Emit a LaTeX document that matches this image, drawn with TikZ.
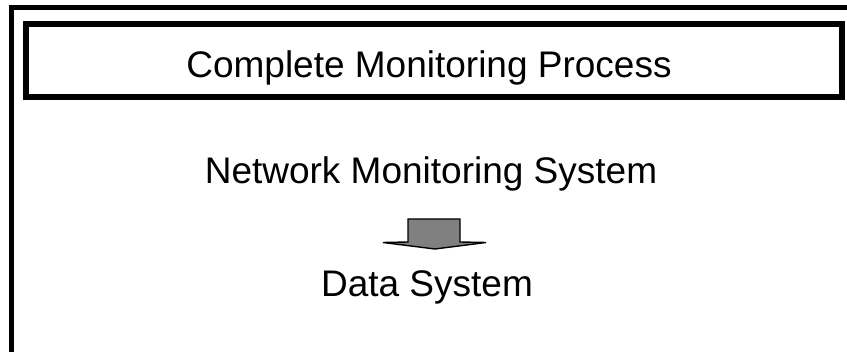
\documentclass[tikz,border=0pt]{standalone}
\usepackage{fontspec}
\setmainfont{Liberation Sans}
\begin{document}
\begin{tikzpicture}[x=1pt,y=-1pt,
  label text/.style={font=\fontsize{37}{44}\selectfont, inner sep=0pt, anchor=base},
  outer frame/.style={draw=black, line width=5pt},
  title frame/.style={draw=black, line width=6pt, fill=white},
  block arrow/.style={draw=black, line width=1.4pt, fill=black!50, line join=miter}]
  \useasboundingbox (0,0) rectangle (847,352);
  \clip (0,0) rectangle (847,352);
  \fill[white] (0,0) rectangle (847,352);
  % enclosing frame (continues past the right and bottom edges)
  \draw[outer frame] (11,8) rectangle (870,380);
  % title bar
  \node[title frame, minimum width=816.5pt, minimum height=73.5pt, inner sep=0pt]
    (titlebox) at (433.75,60.75) {};
  \node[label text] (title) at (429,78) {Complete Monitoring Process};
  % process steps
  \node[label text] (nms) at (431,184) {Network Monitoring System};
  \node[label text] (data) at (427,297) {Data System};
  % block arrow from the monitoring system down to the data system
  \coordinate (tip) at (435,249);
  \draw[block arrow] (408,219) -- (460,219) -- (460,242) -- (486,242.5)
    -- (tip) -- (383,242.5) -- (408,242) -- cycle;
\end{tikzpicture}
\end{document}
